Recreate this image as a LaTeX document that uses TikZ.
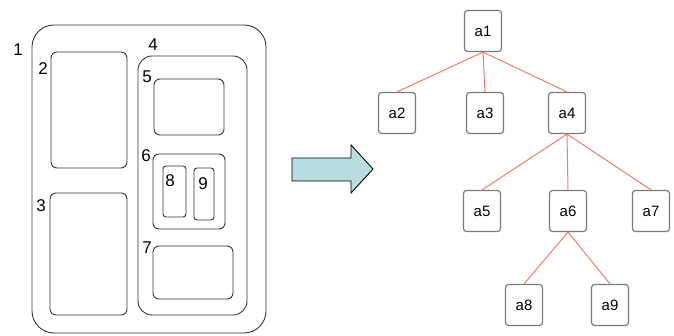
\documentclass[tikz,border=0pt]{standalone}
\usepackage{fontspec}
\setmainfont{Liberation Sans}
\definecolor{arrowfill}{HTML}{B8DCDF}
\definecolor{edgered}{HTML}{EE7E6C}
\definecolor{boxgray}{HTML}{7A7A7A}
\tikzset{
  region/.style={draw=black!80, line width=0.9pt, rounded corners=6pt},
  regionlbl/.style={inner sep=0pt, font=\fontsize{17}{17}\selectfont},
  treenode/.style={draw=boxgray, line width=1.2pt, rounded corners=3pt,
    minimum width=37pt, minimum height=41pt, inner sep=0pt,
    font=\fontsize{15}{15}\selectfont},
  treeedge/.style={edgered, line width=1pt}
}
\begin{document}
\begin{tikzpicture}[x=1pt,y=-1pt]
    \useasboundingbox (0,0) rectangle (674,336);
    % nested regions
    \draw [region, rounded corners=22pt] (32,25) rectangle (266,333);
    \draw (18,50) node [regionlbl] {1};
    \draw [region] (51,52) rectangle (127,168);
    \draw (43,69) node [regionlbl] {2};
    \draw [region] (50,193) rectangle (127,315);
    \draw (41,206) node [regionlbl] {3};
    \draw [region, rounded corners=14pt] (138,56) rectangle (247,315);
    \draw (153,45) node [regionlbl] {4};
    \draw [region] (154,79) rectangle (224,135);
    \draw (147,77) node [regionlbl] {5};
    \draw [region] (153,154) rectangle (225,229);
    \draw (146,156) node [regionlbl] {6};
    \draw [region, rounded corners=3pt] (163,166) rectangle (186,217);
    \draw (170,181) node [regionlbl] {8};
    \draw [region, rounded corners=3pt] (194,168) rectangle (214,220);
    \draw (203,184) node [regionlbl] {9};
    \draw [region] (153,246) rectangle (233,299);
    \draw (147,248) node [regionlbl] {7};
    % arrow
    \filldraw [fill=arrowfill, draw=black, line width=0.9pt]
      (292,158) -- (351,158) -- (351,145) -- (373,169) -- (351,193)
      -- (351,181) -- (292,181) -- cycle;
    % tree
    \node [treenode] (a1) at (483,31) {a1};
    \node [treenode] (a2) at (397,113) {a2};
    \node [treenode] (a3) at (485,113) {a3};
    \node [treenode] (a4) at (567,113) {a4};
    \node [treenode] (a5) at (482,211) {a5};
    \node [treenode] (a6) at (568,211) {a6};
    \node [treenode] (a7) at (651,211) {a7};
    \node [treenode] (a8) at (524,305) {a8};
    \node [treenode] (a9) at (610,305) {a9};
    \foreach \p/\c in {a1/a2, a1/a3, a1/a4, a4/a5, a4/a6, a4/a7, a6/a8, a6/a9}
      \draw [treeedge] (\p.south) -- (\c.north);
\end{tikzpicture}
\end{document}
